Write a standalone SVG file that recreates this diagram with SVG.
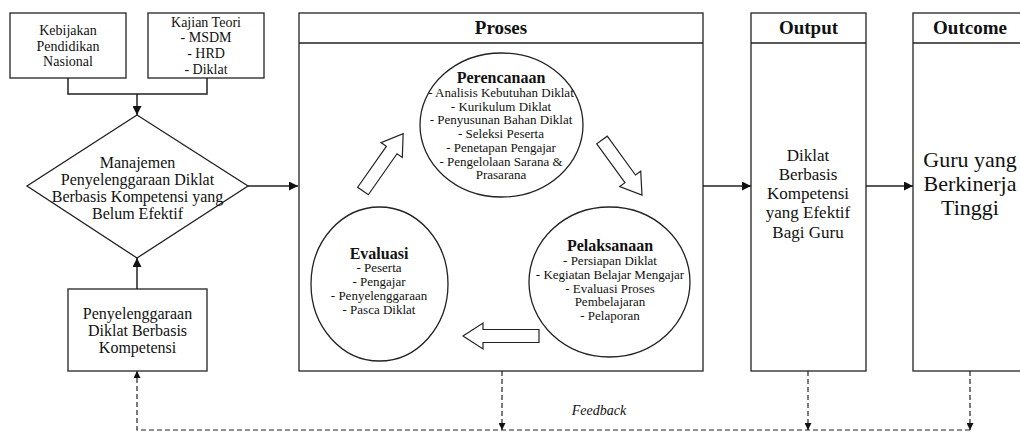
<svg xmlns="http://www.w3.org/2000/svg" width="1020" height="432" viewBox="0 0 1020 432" font-family="'Liberation Serif', 'DejaVu Serif', serif">
<defs>
<marker id="ah" viewBox="0 0 10 10" refX="10" refY="5" markerWidth="9" markerHeight="9" markerUnits="userSpaceOnUse" orient="auto">
<path d="M0,0 L10,5 L0,10 z" fill="#111"/>
</marker>
<marker id="ahs" viewBox="0 0 10 10" refX="10" refY="5" markerWidth="7" markerHeight="7" markerUnits="userSpaceOnUse" orient="auto">
<path d="M0,0 L10,5 L0,10 z" fill="#111"/>
</marker>
</defs>
<style>
.box{fill:#fff;stroke:#222;stroke-width:1.3}
.ln{fill:none;stroke:#222;stroke-width:1.5}
.ds{fill:none;stroke:#222;stroke-width:1.2;stroke-dasharray:5 3}
.blk{fill:#fff;stroke:#222;stroke-width:1.2}
text{font-family:'Liberation Serif','DejaVu Serif',serif;fill:#111;text-anchor:middle}
.t14{font-size:14px}
.t16{font-size:16px}
.t17{font-size:17px}
.t22{font-size:22px}
.hd{font-size:19px;font-weight:bold}
.ct{font-size:16px;font-weight:bold}
.li{font-size:13px}
.fb{font-size:14px;font-style:italic}
</style>
<rect width="1020" height="432" fill="#fff"/>

<g id="connectors">
<polyline class="ln" points="68,78 68,94 207,94 207,78"/>
<line class="ln" x1="137" y1="94" x2="137" y2="115" marker-end="url(#ah)"/>
<line class="ln" x1="137" y1="289" x2="137" y2="258" marker-end="url(#ah)"/>
<line class="ln" x1="248" y1="186" x2="298" y2="186" marker-end="url(#ah)"/>
<line class="ln" x1="703" y1="186" x2="751" y2="186" marker-end="url(#ah)"/>
<line class="ln" x1="866" y1="186" x2="913" y2="186" marker-end="url(#ah)"/>
<line class="ds" x1="502" y1="371" x2="502" y2="430" marker-end="url(#ahs)"/>
<line class="ds" x1="808" y1="371" x2="808" y2="430" marker-end="url(#ahs)"/>
<line class="ds" x1="970" y1="371" x2="970" y2="430" marker-end="url(#ahs)"/>
<polyline class="ds" points="970,430 137,430 137,371" marker-end="url(#ahs)"/>
<text class="fb" x="599" y="415">Feedback</text>
</g>

<g id="kebijakan">
<rect class="box" x="10" y="13" width="116" height="65"/>
<text class="t14" x="68" y="35">Kebijakan</text>
<text class="t14" x="68" y="50.5">Pendidikan</text>
<text class="t14" x="68" y="66">Nasional</text>
</g>

<g id="kajian">
<rect class="box" x="148" y="13" width="116" height="65"/>
<text class="t14" x="206" y="26.5">Kajian Teori</text>
<text class="t14" x="206" y="42">- MSDM</text>
<text class="t14" x="206" y="58">- HRD</text>
<text class="t14" x="206" y="73.5">- Diklat</text>
</g>

<g id="manajemen">
<polygon class="box" points="137,115 248,186 137,258 27,186"/>
<text class="t16" x="137.5" y="167.5">Manajemen</text>
<text class="t16" x="137.5" y="184.5">Penyelenggaraan Diklat</text>
<text class="t16" x="137.5" y="201.5">Berbasis Kompetensi yang</text>
<text class="t16" x="137.5" y="218.5">Belum Efektif</text>
</g>

<g id="penyelenggaraan">
<rect class="box" x="68" y="289" width="139" height="82"/>
<text class="t16" x="137.5" y="318.5">Penyelenggaraan</text>
<text class="t16" x="137.5" y="335.5">Diklat Berbasis</text>
<text class="t16" x="137.5" y="352.5">Kompetensi</text>
</g>

<g id="proses">
<rect class="box" x="299" y="13" width="404" height="358"/>
<line class="ln" x1="299" y1="43" x2="703" y2="43" style="stroke-width:1.3"/>
<text class="hd" x="501" y="33.5">Proses</text>
</g>

<g id="perencanaan">
<ellipse class="box" cx="501.5" cy="125" rx="81.5" ry="72"/>
<text class="ct" x="501" y="82.5">Perencanaan</text>
<text class="li" x="501" y="96.5">- Analisis Kebutuhan Diklat</text>
<text class="li" x="501" y="110.5">- Kurikulum Diklat</text>
<text class="li" x="501" y="124">- Penyusunan Bahan Diklat</text>
<text class="li" x="501" y="138">- Seleksi Peserta</text>
<text class="li" x="501" y="151.5">- Penetapan Pengajar</text>
<text class="li" x="501" y="165.5">- Pengelolaan Sarana &amp;</text>
<text class="li" x="501" y="179">Prasarana</text>
</g>

<g id="pelaksanaan">
<ellipse class="box" cx="609.5" cy="282" rx="80.5" ry="75"/>
<text class="ct" x="610" y="250.5">Pelaksanaan</text>
<text class="li" x="610" y="264.5">- Persiapan Diklat</text>
<text class="li" x="610" y="278.5">- Kegiatan Belajar Mengajar</text>
<text class="li" x="610" y="292.5">- Evaluasi Proses</text>
<text class="li" x="610" y="306">Pembelajaran</text>
<text class="li" x="610" y="320">- Pelaporan</text>
</g>

<g id="evaluasi">
<ellipse class="box" cx="379.5" cy="284" rx="68.5" ry="77"/>
<text class="ct" x="379" y="258.5">Evaluasi</text>
<text class="li" x="379" y="271.5">- Peserta</text>
<text class="li" x="379" y="285.5">- Pengajar</text>
<text class="li" x="379" y="299.5">- Penyelenggaraan</text>
<text class="li" x="379" y="313.5">- Pasca Diklat</text>
</g>

<g id="block-arrows">
<path class="blk" transform="translate(363,191) rotate(-55)" d="M0,-6.5 L50,-6.5 L50,-13 L70,0 L50,13 L50,6.5 L0,6.5 Z"/>
<path class="blk" transform="translate(602,140) rotate(54)" d="M0,-6.5 L48,-6.5 L48,-13 L68,0 L48,13 L48,6.5 L0,6.5 Z"/>
<path class="blk" d="M539,329.5 L483,329.5 L483,323 L463,336 L483,349 L483,342.5 L539,342.5 Z"/>
</g>

<g id="output">
<rect class="box" x="751" y="13" width="115" height="358"/>
<line class="ln" x1="751" y1="43" x2="866" y2="43" style="stroke-width:1.3"/>
<text class="hd" x="808.5" y="33.5">Output</text>
<text class="t17" x="808" y="161">Diklat</text>
<text class="t17" x="808" y="180">Berbasis</text>
<text class="t17" x="808" y="199">Kompetensi</text>
<text class="t17" x="808" y="218">yang Efektif</text>
<text class="t17" x="808" y="237.5">Bagi Guru</text>
</g>

<g id="outcome">
<rect class="box" x="913" y="13" width="114" height="358"/>
<line class="ln" x1="913" y1="43" x2="1027" y2="43" style="stroke-width:1.3"/>
<text class="hd" x="970" y="33.5">Outcome</text>
<text class="t22" x="970" y="167">Guru yang</text>
<text class="t22" x="970" y="191">Berkinerja</text>
<text class="t22" x="970" y="215">Tinggi</text>
</g>
</svg>
